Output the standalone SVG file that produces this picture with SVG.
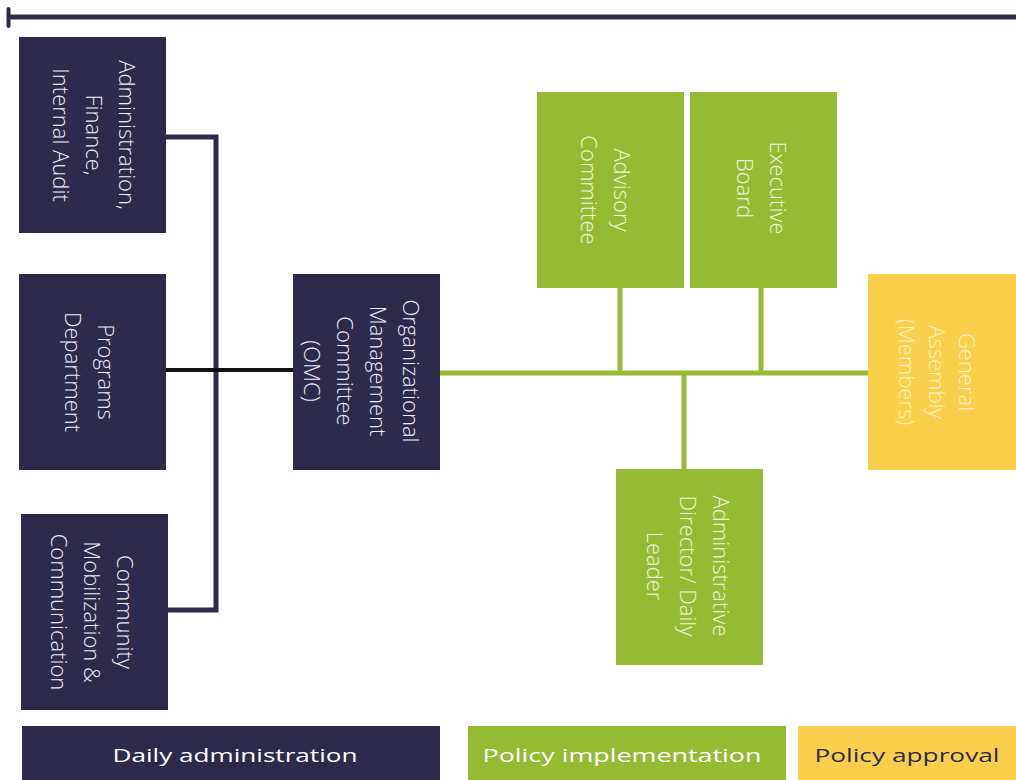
<svg xmlns="http://www.w3.org/2000/svg" width="1016" height="780" viewBox="0 0 1016 780">
<style>
.navy{fill:#2d2a4c}
.green{fill:#95bb34}
.yellow{fill:#fbcf4b}
.nt{font-family:"Open Sans","Noto Sans",sans-serif;font-weight:300;font-size:22px;text-anchor:middle;dominant-baseline:central}
.tw{fill:#ecebf3}
.tg{fill:#eef4dc}
.ty{fill:#fdf1c8}
.lg{font-family:"Open Sans","Noto Sans",sans-serif;font-size:19px;text-anchor:middle;dominant-baseline:central}
</style>
<rect width="1016" height="780" fill="#ffffff"/>
<g id="topline">
<line x1="10" y1="17" x2="1016" y2="17" stroke="#2d2a4c" stroke-width="5"/>
<line x1="8.5" y1="9" x2="8.5" y2="26" stroke="#2d2a4c" stroke-width="4" stroke-linecap="round"/>
</g>
<g id="connectors" fill="none">
<polyline points="166,137 216,137 216,610 168,610" stroke="#2d2a4c" stroke-width="5"/>
<line x1="166" y1="370" x2="293" y2="370" stroke="#111111" stroke-width="4"/>
<line x1="440" y1="373" x2="868" y2="373" stroke="#95bb34" stroke-width="5"/>
<line x1="620" y1="288" x2="620" y2="373" stroke="#95bb34" stroke-width="5"/>
<line x1="761" y1="288" x2="761" y2="373" stroke="#95bb34" stroke-width="5"/>
<line x1="684" y1="373" x2="684" y2="469" stroke="#95bb34" stroke-width="5"/>
</g>
<g id="node-admin">
<rect class="navy" x="19" y="37" width="147" height="196"/>
<g transform="translate(95,135) rotate(90)"><text class="nt tw" x="0" y="-33">Administration,</text><text class="nt tw" x="0" y="0">Finance,</text><text class="nt tw" x="0" y="33">Internal Audit</text></g>
</g>
<g id="node-programs">
<rect class="navy" x="19" y="274" width="147" height="196"/>
<g transform="translate(90,372) rotate(90)"><text class="nt tw" x="0" y="-16.5">Programs</text><text class="nt tw" x="0" y="16.5">Department</text></g>
</g>
<g id="node-community">
<rect class="navy" x="21" y="514" width="147" height="196"/>
<g transform="translate(93,612) rotate(90)"><text class="nt tw" x="0" y="-33">Community</text><text class="nt tw" x="0" y="0">Mobilization &amp;</text><text class="nt tw" x="0" y="33">Communication</text></g>
</g>
<g id="node-omc">
<rect class="navy" x="293" y="274" width="147" height="196"/>
<g transform="translate(362,371) rotate(90)"><text class="nt tw" x="0" y="-49.5">Organizational</text><text class="nt tw" x="0" y="-16.5">Management</text><text class="nt tw" x="0" y="16.5">Committee</text><text class="nt tw" x="0" y="49.5">(OMC)</text></g>
</g>
<g id="node-advisory">
<rect class="green" x="537" y="92" width="147" height="196"/>
<g transform="translate(606,190) rotate(90)"><text class="nt tg" x="0" y="-16.5">Advisory</text><text class="nt tg" x="0" y="16.5">Committee</text></g>
</g>
<g id="node-executive">
<rect class="green" x="690" y="92" width="147" height="196"/>
<g transform="translate(762,188) rotate(90)"><text class="nt tg" x="0" y="-16.5">Executive</text><text class="nt tg" x="0" y="16.5">Board</text></g>
</g>
<g id="node-director">
<rect class="green" x="616" y="469" width="147" height="196"/>
<g transform="translate(689,566) rotate(90)"><text class="nt tg" x="0" y="-33">Administrative</text><text class="nt tg" x="0" y="0">Director/ Daily</text><text class="nt tg" x="0" y="33">Leader</text></g>
</g>
<g id="node-assembly">
<rect class="yellow" x="868" y="274" width="148" height="196"/>
<g transform="translate(938,372) rotate(90)"><text class="nt ty" x="0" y="-30">General</text><text class="nt ty" x="0" y="0">Assembly</text><text class="nt ty" x="0" y="30">(Members)</text></g>
</g>
<g id="legend">
<rect class="navy" x="22" y="726" width="418" height="54"/>
<text class="lg" x="235" y="755" fill="#ffffff" textLength="245" lengthAdjust="spacingAndGlyphs">Daily administration</text>
<rect class="green" x="468" y="726" width="318" height="54"/>
<text class="lg" x="622" y="755" fill="#ffffff" textLength="279" lengthAdjust="spacingAndGlyphs">Policy implementation</text>
<rect class="yellow" x="798" y="726" width="218" height="54"/>
<text class="lg" x="907" y="755" fill="#2d2a4c" textLength="185" lengthAdjust="spacingAndGlyphs">Policy approval</text>
</g>
</svg>
